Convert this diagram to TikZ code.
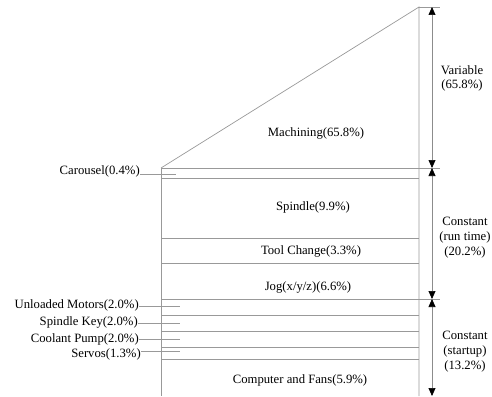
\documentclass[tikz,border=0pt]{standalone}
\usepackage{fontspec}
\setmainfont{LiberationSerif-Regular.ttf}
\usetikzlibrary{arrows.meta}
\tikzset{
    part/.style={draw=black!40, line width=0.7pt},
    txt/.style={font=\fontsize{12.7}{14.8}\selectfont, inner sep=0pt, align=center},
    span/.style={draw=black!45, line width=0.7pt,
        {Triangle[length=8pt, width=7pt, color=black]}-{Triangle[length=8pt, width=7pt, color=black]}}
}

\begin{document}
\begin{tikzpicture}[x=1pt, y=-1pt]
    \useasboundingbox (0, 0) rectangle (492, 396);
    % outline
    \coordinate (apex) at (419, 7);
    \coordinate (base) at (161, 168);
    \coordinate (bl) at (161, 396);
    \coordinate (br) at (419, 396);
    \draw[part] (base) -- (apex) -- (br);
    \draw[part] (base) -- (bl);
    \draw[part] (apex) -- (440, 7);
    \draw[part] (base) -- (440, 168);
    \draw[part] (161, 299) -- (440, 299);
    \foreach \y in {178, 238, 263, 315, 331, 347, 359}
        \draw[part] (161, \y) -- (419, \y);

    % spans
    \coordinate (s0) at (432, 7);
    \coordinate (s1) at (432, 168);
    \coordinate (s2) at (432, 299);
    \coordinate (s3) at (432, 396);
    \draw[span] (s0) -- (s1);
    \draw[span] (s1) -- (s2);
    \draw[span] (s2) -- (s3);
    \node[txt] (var) at (462, 78.5) {Variable\\(65.8\%)};
    \node[txt] (run) at (465, 237.5) {Constant\\(run time)\\(20.2\%)};
    \node[txt] (start) at (465, 351.5) {Constant\\(startup)\\(13.2\%)};

    % blocks
    \node[txt] (mach) at (316, 133) {Machining(65.8\%)};
    \node[txt] (spin) at (313, 207) {Spindle(9.9\%)};
    \node[txt] (tool) at (311, 251) {Tool Change(3.3\%)};
    \node[txt] (jog) at (308, 287) {Jog(x/y/z)(6.6\%)};
    \node[txt] (comp) at (300, 380) {Computer and Fans(5.9\%)};

    % side labels
    \node[txt, anchor=east] (car) at (140, 171) {Carousel(0.4\%)};
    \node[txt, anchor=east] (unl) at (139, 305.5) {Unloaded Motors(2.0\%)};
    \node[txt, anchor=east] (key) at (138, 322.5) {Spindle Key(2.0\%)};
    \node[txt, anchor=east] (pump) at (139, 339) {Coolant Pump(2.0\%)};
    \node[txt, anchor=east] (serv) at (141, 354) {Servos(1.3\%)};
    \coordinate (carin) at (176, 174);
    \coordinate (unlin) at (180, 306);
    \coordinate (keyin) at (180, 323);
    \coordinate (pumpin) at (180, 339);
    \coordinate (servin) at (180, 351);
    \draw[part] (car.east |- carin) -- (carin);
    \draw[part] (unl.east |- unlin) -- (unlin);
    \draw[part] (key.east |- keyin) -- (keyin);
    \draw[part] (pump.east |- pumpin) -- (pumpin);
    \draw[part] (serv.east |- servin) -- (servin);
\end{tikzpicture}
\end{document}
